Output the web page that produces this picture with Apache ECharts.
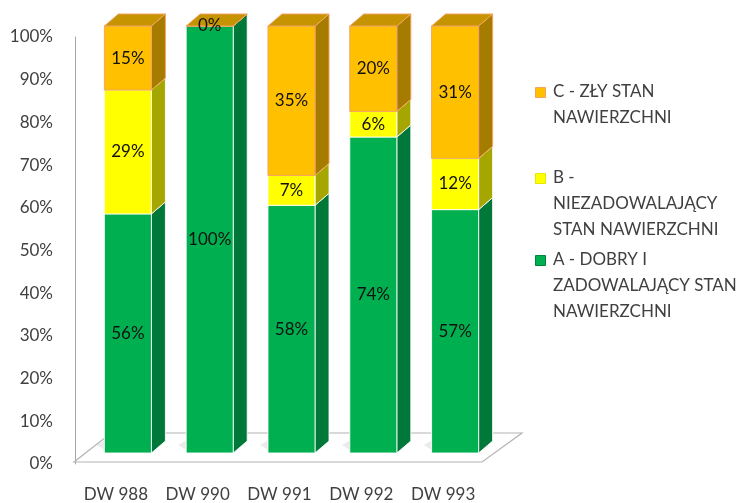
<!DOCTYPE html>
<html>
<head>
<meta charset="utf-8">
<script src="https://cdn.jsdelivr.net/npm/echarts@6/dist/echarts.min.js"></script>
<style>
  html, body { margin: 0; padding: 0; background: #ffffff; }
  #chart { width: 746px; height: 503px; }
</style>
</head>
<body>
<div id="chart"></div>
<script>
// Road sections and the share of surface condition classes (%)
const categories = ['DW 988', 'DW 990', 'DW 991', 'DW 992', 'DW 993'];
const valuesA = [56, 100, 58, 74, 57];   // A - good / satisfactory
const valuesB = [29, null, 7, 6, 12];    // B - unsatisfactory
const valuesC = [15, 0, 35, 20, 31];     // C - poor
const seriesNames = [
  'A - DOBRY I ZADOWALAJĄCY STAN NAWIERZCHNI',
  'B - NIEZADOWALAJĄCY STAN NAWIERZCHNI',
  'C - ZŁY STAN NAWIERZCHNI'
];
const legendLabels = [
  'A - DOBRY I\nZADOWALAJĄCY STAN\nNAWIERZCHNI',
  'B -\nNIEZADOWALAJĄCY\nSTAN NAWIERZCHNI',
  'C - ZŁY STAN\nNAWIERZCHNI'
];

// face colours per layer: front, side, top, outline
const palette = [
  { front: '#00B050', side: '#00783A', top: '#00964A', stroke: 'rgba(255,255,255,0.85)' },
  { front: '#FFFF00', side: '#A6A600', top: '#D6D600', stroke: 'rgba(255,255,255,0.85)' },
  { front: '#FFC000', side: '#A57C00', top: '#C69400', stroke: '#F4A460' }
];

const FONT = 'Lato, "Open Sans", sans-serif';
const BAR_RATIO = 0.575;   // front face width relative to the category band
const SHIFT_X = 12;        // bars stand a bit back on the floor
const SHIFT_Y = -11;
const DX = 14, DY = 12;    // bar depth projection
const FLOOR_DX_L = 37, FLOOR_DX_R = 40, FLOOR_DY = 29;

const layers = [valuesA, valuesB, valuesC];

// index of the highest drawn layer for each category (it gets the top face)
const topLayer = categories.map((_, i) => {
  let t = 0;
  layers.forEach((vals, li) => { if (vals[i] !== null && vals[i] !== undefined) t = li; });
  return t;
});

function layerData(li) {
  const out = [];
  categories.forEach((_, i) => {
    const v = layers[li][i];
    if (v === null || v === undefined) return;
    let base = 0;
    for (let k = 0; k < li; k++) base += layers[k][i] || 0;
    out.push([i, base, v]);
  });
  return out;
}

function makeRender(li) {
  const col = palette[li];
  return function (params, api) {
    const cat = api.value(0), base = api.value(1), val = api.value(2);
    const pb = api.coord([cat, base]);
    const pt = api.coord([cat, base + val]);
    const band = api.size([1, 0])[0];
    const w = band * BAR_RATIO;
    const x0 = pb[0] - w / 2 + SHIFT_X, x1 = x0 + w;
    const yb = pb[1] + SHIFT_Y, yt = pt[1] + SHIFT_Y;
    const children = [];
    if (li === 0) {
      // soft shadow on the floor, cast back and to the left
      children.push({
        type: 'polygon',
        shape: { points: [[x0 - 8, yb - 8], [x0 + 2, yb - 2], [x1, yb - 2], [x1 + DX, yb - DY], [x0 + DX - 8, yb - DY - 4]] },
        style: { fill: 'rgba(0,0,0,0.08)', shadowBlur: 8, shadowColor: 'rgba(0,0,0,0.12)' },
        z2: 0
      });
    }
    children.push({
      type: 'polygon',
      shape: { points: [[x1, yb], [x1 + DX, yb - DY], [x1 + DX, yt - DY], [x1, yt]] },
      style: { fill: col.side, stroke: col.stroke, lineWidth: 1 },
      z2: 1
    });
    children.push({
      type: 'rect',
      shape: { x: x0, y: yt, width: w, height: yb - yt },
      style: { fill: col.front, stroke: col.stroke, lineWidth: 1 },
      z2: 2
    });
    if (topLayer[cat] === li) {
      children.push({
        type: 'polygon',
        shape: { points: [[x0, yt], [x1, yt], [x1 + DX, yt - DY], [x0 + DX, yt - DY]] },
        style: { fill: col.top, stroke: col.stroke, lineWidth: 1 },
        z2: 3
      });
    }
    children.push({
      type: 'text',
      style: {
        text: val + '%', x: (x0 + x1) / 2, y: (yt + yb) / 2,
        align: 'center', verticalAlign: 'middle',
        fill: '#111111', font: '17px ' + FONT
      },
      z2: 10
    });
    return { type: 'group', children: children };
  };
}

function renderFloor(params, api) {
  const band = api.size([1, 0])[0];
  const pl = api.coord([0, 0]);
  const pr = api.coord([categories.length - 1, 0]);
  const xl = pl[0] - band / 2 - 1, xr = pr[0] + band / 2 - 2, y = pl[1] - 2;
  return {
    type: 'polygon',
    shape: { points: [[xl, y], [xr, y], [xr + FLOOR_DX_R, y - FLOOR_DY], [xl + FLOOR_DX_L, y - FLOOR_DY]] },
    style: { fill: '#ffffff', stroke: '#B4B4B4', lineWidth: 1.2 }
  };
}

const chart = echarts.init(document.getElementById('chart'), null, { renderer: 'canvas' });

const series = [{
  type: 'custom',
  name: 'floor',
  renderItem: renderFloor,
  data: [[0, 0]],
  silent: true,
  z: 1
}];
layers.forEach((_, li) => {
  series.push({
    type: 'custom',
    name: seriesNames[li],
    renderItem: makeRender(li),
    data: layerData(li),
    encode: { x: 0, y: [1, 2] },
    z: 2 + li
  });
});

// legend entries, top to bottom: C, B, A
const legendPos = [
  { li: 2, y: 87 },
  { li: 1, y: 173 },
  { li: 0, y: 255 }
];
const graphic = [];
legendPos.forEach(p => {
  const col = palette[p.li];
  graphic.push({
    type: 'rect', left: 535, top: p.y,
    shape: { width: 10, height: 10 },
    style: { fill: col.front, stroke: p.li === 2 ? '#F4A460' : (p.li === 0 ? '#00843C' : '#E6E600'), lineWidth: 1 }
  });
  graphic.push({
    type: 'text', left: 553, top: p.y - 8,
    style: { text: legendLabels[p.li], font: '17px ' + FONT, fill: '#404040', lineHeight: 26 }
  });
});

chart.setOption({
  animation: false,
  backgroundColor: '#ffffff',
  grid: { left: 75, right: 262, top: 37, bottom: 37 },
  xAxis: {
    type: 'category',
    data: categories,
    axisLine: { show: false },
    axisTick: { show: false },
    axisLabel: { interval: 0, margin: 22, color: '#404040', fontSize: 17, fontFamily: FONT }
  },
  yAxis: {
    type: 'value',
    min: 0, max: 100, interval: 10,
    axisLine: { show: true, lineStyle: { color: '#A6A6A6', width: 1 } },
    axisTick: { show: false },
    splitLine: { show: false },
    axisLabel: { formatter: '{value}%', margin: 22, color: '#404040', fontSize: 17, fontFamily: FONT }
  },
  graphic: graphic,
  series: series
});
</script>
</body>
</html>
